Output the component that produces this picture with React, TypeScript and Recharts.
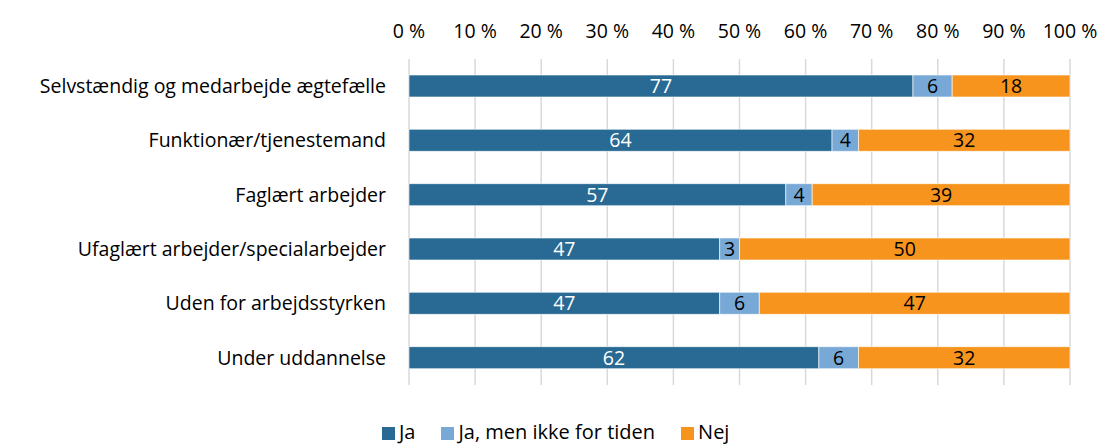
import { Bar, BarChart, CartesianGrid, LabelList, Legend, XAxis, YAxis } from "recharts";

const categories = [
  "Selvstændig og medarbejde ægtefælle",
  "Funktionær/tjenestemand",
  "Faglært arbejder",
  "Ufaglært arbejder/specialarbejder",
  "Uden for arbejdsstyrken",
  "Under uddannelse",
];
const ja = [77, 64, 57, 47, 47, 62];
const jaMen = [6, 4, 4, 3, 6, 6];
const nej = [18, 32, 39, 50, 47, 32];
const ticks = [0, 0.1, 0.2, 0.3, 0.4, 0.5, 0.6, 0.7, 0.8, 0.9, 1];

const data = categories.map((name, i) => ({ name, ja: ja[i], jaMen: jaMen[i], nej: nej[i] }));

const font = "'Open Sans', sans-serif";
const fs = 19.5;

export default function App() {
  return (
    <div style={{ position: "absolute", left: 0, top: 0, fontFamily: font }}>
      <BarChart
        width={1102}
        height={445}
        data={data}
        layout="vertical"
        stackOffset="expand"
        barSize={22}
        margin={{ top: 0, right: 32, left: 0, bottom: 38 }}
      >
        <CartesianGrid horizontal={false} stroke="#d9d9d9" strokeWidth={1.5} />
        <XAxis
          type="number"
          orientation="top"
          domain={[0, 1]}
          ticks={ticks}
          height={59}
          axisLine={false}
          tickLine={false}
          tickMargin={15}
          tickFormatter={(v) => `${Math.round(v * 100)} %`}
          tick={{ fill: "#000", fontSize: fs, fontFamily: font }}
        />
        <YAxis
          type="category"
          dataKey="name"
          width={409}
          axisLine={false}
          tickLine={false}
          tickMargin={17}
          tick={{ fill: "#000", fontSize: fs, fontFamily: font }}
        />
        <Legend
          iconType="square"
          iconSize={13}
          wrapperStyle={{ top: 421, left: 382, width: "auto", fontSize: 20, lineHeight: "22px", fontFamily: font, color: "#000" }}
          formatter={(v) => <span style={{ color: "#000", marginRight: 16 }}>{v}</span>}
        />
        <Bar dataKey="ja" name="Ja" stackId="a" fill="#286a93" stroke="#fff" strokeWidth={0.6} isAnimationActive={false}>
          <LabelList dataKey="ja" position="center" fill="#fff" fontSize={fs} fontFamily={font} />
        </Bar>
        <Bar dataKey="jaMen" name="Ja, men ikke for tiden" stackId="a" fill="#78a8d6" stroke="#fff" strokeWidth={0.6} isAnimationActive={false}>
          <LabelList dataKey="jaMen" position="center" fill="#000" fontSize={fs} fontFamily={font} />
        </Bar>
        <Bar dataKey="nej" name="Nej" stackId="a" fill="#f7941e" stroke="#fff" strokeWidth={0.6} isAnimationActive={false}>
          <LabelList dataKey="nej" position="center" fill="#000" fontSize={fs} fontFamily={font} />
        </Bar>
      </BarChart>
    </div>
  );
}
